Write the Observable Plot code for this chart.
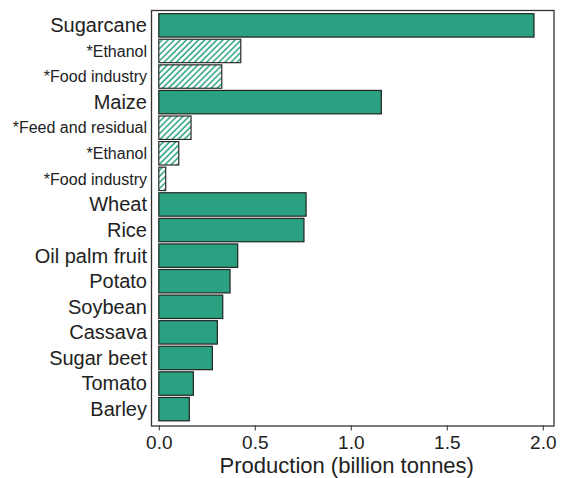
<!DOCTYPE html>
<html>
<head>
<meta charset="utf-8">
<script src="https://cdn.jsdelivr.net/npm/d3@7"></script>
<script src="https://cdn.jsdelivr.net/npm/@observablehq/plot@0.6"></script>
<style>
  html, body { margin: 0; padding: 0; background: #fff; }
  #chart svg { display: block; }
</style>
</head>
<body>
<div id="chart"></div>
<script>
const crops = ["Sugarcane", "*Ethanol", "*Food industry", "Maize", "*Feed and residual", "*Ethanol", "*Food industry",
  "Wheat", "Rice", "Oil palm fruit", "Potato", "Soybean", "Cassava", "Sugar beet", "Tomato", "Barley"];
const production = [1.954, 0.427, 0.328, 1.159, 0.168, 0.104, 0.036,
  0.767, 0.756, 0.411, 0.371, 0.333, 0.305, 0.279, 0.180, 0.159];
const subUse = [false, true, true, false, true, true, true,
  false, false, false, false, false, false, false, false, false];
const xTicks = [0, 0.5, 1, 1.5, 2];
const axisTitle = "Production (billion tonnes)";

const teal = "#2aa180";
const rows = crops.map((label, i) => ({id: String(i), label, value: production[i], sub: subUse[i]}));

const chart = Plot.plot({
  width: 564,
  height: 478,
  marginLeft: 151,
  marginRight: 10.5,
  marginTop: 10,
  marginBottom: 52.5,
  style: {fontFamily: "Liberation Sans, Arial, sans-serif", color: "#222", background: "#fff"},
  x: {domain: [-0.0406, 2.0557], axis: null},
  y: {domain: rows.map(d => d.id), padding: 0.085, round: false, insetTop: 1.5, insetBottom: 2.5, axis: null},
  marks: [
    Plot.barX(rows.filter(d => !d.sub), {x: "value", y: "id", fill: teal, stroke: "#222", strokeWidth: 1.2}),
    Plot.barX(rows.filter(d => d.sub), {x: "value", y: "id", fill: "url(#hatch)", stroke: "#2b2b2b", strokeWidth: 1.2}),
    Plot.frame({stroke: "#333", strokeWidth: 1.3}),
    Plot.text(rows, {y: "id", text: "label", frameAnchor: "left", textAnchor: "end", dx: -4.5,
      fontSize: d => d.sub ? 16 : 20, fill: "#222"}),
    Plot.axisX({ticks: xTicks, tickFormat: d3.format(".1f"), tickSize: 5, tickPadding: 4.3, fontSize: 19,
      stroke: "#333", label: null}),
    Plot.text([axisTitle], {text: d => d, frameAnchor: "bottom", dy: 40, dx: -6, fontSize: 22,
      lineAnchor: "middle", fill: "#222"})
  ]
});

// hatch pattern for the sub-use bars
const ns = "http://www.w3.org/2000/svg";
const defs = document.createElementNS(ns, "defs");
const pat = document.createElementNS(ns, "pattern");
pat.setAttribute("id", "hatch");
pat.setAttribute("patternUnits", "userSpaceOnUse");
pat.setAttribute("width", "4.3");
pat.setAttribute("height", "4.3");
pat.setAttribute("patternTransform", "rotate(45)");
const bg = document.createElementNS(ns, "rect");
bg.setAttribute("width", "4.3");
bg.setAttribute("height", "4.3");
bg.setAttribute("fill", "#fff");
const ln = document.createElementNS(ns, "line");
ln.setAttribute("x1", "1");
ln.setAttribute("y1", "-1");
ln.setAttribute("x2", "1");
ln.setAttribute("y2", "6");
ln.setAttribute("stroke", teal);
ln.setAttribute("stroke-width", "1.5");
pat.appendChild(bg);
pat.appendChild(ln);
defs.appendChild(pat);
chart.insertBefore(defs, chart.firstChild);

document.getElementById("chart").appendChild(chart);
</script>
</body>
</html>
